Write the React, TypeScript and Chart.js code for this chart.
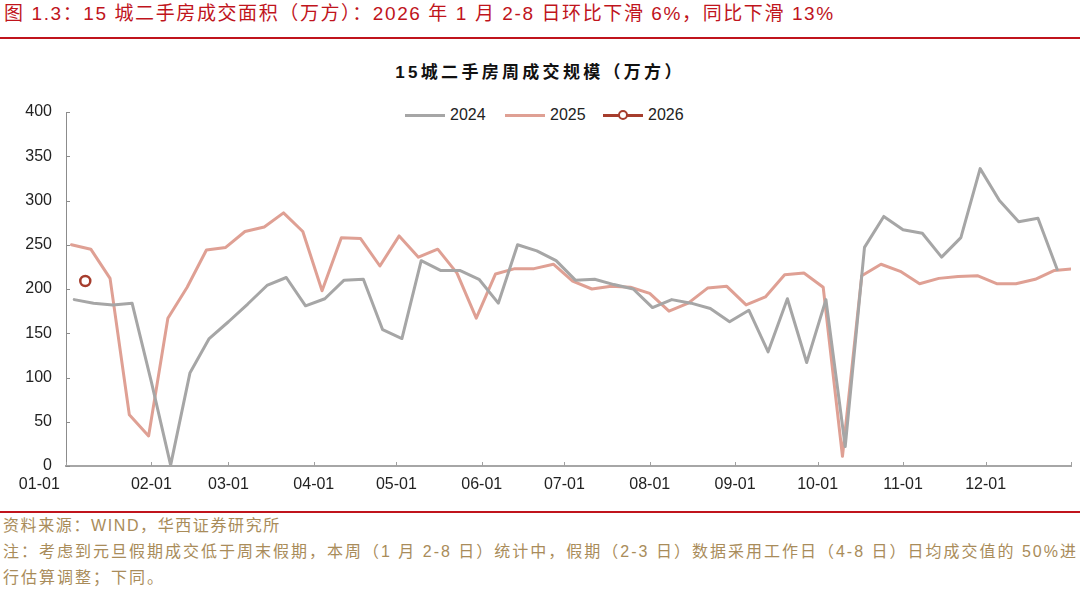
import React, { useEffect, useRef } from "react";
import { Chart, registerables } from "chart.js";

Chart.register(...registerables);

// ---- data ----
const monthTickDays = [0, 31, 59, 90, 120, 151, 181, 212, 243, 273, 304, 334, 365];
const monthTickLabels = ["01-01", "02-01", "03-01", "04-01", "05-01", "06-01", "07-01", "08-01", "09-01", "10-01", "11-01", "12-01", ""];
const yMin = 0;
const yMax = 400;
const yStep = 50;

const seriesNames = ["2024", "2025", "2026"];
// day-of-year of each series' first weekly observation (weeks are 7 days apart)
const firstWeekDay2024 = 3;
const firstWeekDay2025 = 2;
const firstWeekDay2026 = 7;

const values2024 = [188, 184, 182, 184, 95, 1, 105, 144, 163, 183, 204, 213, 181, 189, 210, 211, 154, 144, 232, 221, 221, 211, 184, 250, 243, 232, 210, 211, 205, 200, 179, 188, 184, 178, 163, 176, 129, 189, 117, 188, 22, 247, 282, 267, 263, 236, 258, 336, 300, 276, 280, 222];
const values2025 = [250, 245, 212, 58, 34, 167, 202, 244, 247, 265, 270, 286, 265, 198, 258, 257, 226, 260, 236, 245, 218, 167, 217, 223, 223, 228, 209, 200, 203, 202, 195, 175, 184, 201, 203, 182, 191, 216, 218, 202, 11, 215, 228, 220, 206, 212, 214, 215, 206, 206, 211, 221, 223];
const values2026 = [209];

const seriesColors = ["#A6A6A6", "#DFA094", "#A63D2D"];

const FONT = '"Liberation Sans", "Noto Sans CJK SC", sans-serif';

function weekly(firstDay: number, values: number[]) {
  return values.map((v, i) => ({ x: firstDay + 7 * i, y: v }));
}

const innerTicks = {
  id: "innerTicks",
  beforeDatasetsDraw(chart: any) {
    const { ctx, chartArea, scales } = chart;
    ctx.save();
    ctx.lineWidth = 1;
    ctx.strokeStyle = "#8C8C8C";
    ctx.beginPath();
    scales.y.ticks.forEach((t: any) => {
      const py = Math.round(scales.y.getPixelForValue(t.value)) + 0.5;
      ctx.moveTo(chartArea.left, py);
      ctx.lineTo(chartArea.left + 4, py);
    });
    ctx.stroke();
    ctx.strokeStyle = "#A0A0A0";
    ctx.beginPath();
    scales.x.ticks.forEach((t: any) => {
      const px = Math.round(scales.x.getPixelForValue(t.value)) + 0.5;
      ctx.moveTo(px, chartArea.bottom);
      ctx.lineTo(px, chartArea.bottom - 4);
    });
    ctx.stroke();
    ctx.restore();
  },
};

function LegendItem({ left, color, label, marker }: { left: number; color: string; label: string; marker?: boolean }) {
  return (
    <div style={{ position: "absolute", left, top: 105, height: 20, width: 100 }}>
      <div style={{ position: "absolute", left: 0, top: 8.5, width: 40, height: 3, background: color }} />
      {marker ? (
        <div
          style={{
            position: "absolute",
            left: 14.5,
            top: 4.5,
            width: 6,
            height: 6,
            border: `2.5px solid ${color}`,
            borderRadius: "50%",
            background: "#fff",
          }}
        />
      ) : null}
      <div style={{ position: "absolute", left: 45, top: 0, lineHeight: "20px", fontSize: 16, color: "#222", fontFamily: FONT }}>{label}</div>
    </div>
  );
}

export default function App() {
  const canvasRef = useRef<HTMLCanvasElement | null>(null);

  useEffect(() => {
    const canvas = canvasRef.current;
    if (!canvas) return;
    const chart = new Chart(canvas, {
      type: "line",
      data: {
        datasets: [
          {
            label: seriesNames[0],
            data: weekly(firstWeekDay2024, values2024),
            borderColor: seriesColors[0],
            borderWidth: 3,
            pointRadius: 0,
            tension: 0,
            borderJoinStyle: "round",
            borderCapStyle: "round",
          },
          {
            label: seriesNames[1],
            data: weekly(firstWeekDay2025, values2025),
            borderColor: seriesColors[1],
            borderWidth: 3,
            pointRadius: 0,
            tension: 0,
            borderJoinStyle: "round",
            borderCapStyle: "round",
          },
          {
            label: seriesNames[2],
            data: weekly(firstWeekDay2026, values2026),
            borderColor: seriesColors[2],
            backgroundColor: "#ffffff",
            borderWidth: 2.5,
            pointRadius: 5,
            pointStyle: "circle",
            pointBorderWidth: 2.5,
            pointBackgroundColor: "#ffffff",
            pointBorderColor: seriesColors[2],
            showLine: false,
          },
        ],
      },
      options: {
        animation: false,
        responsive: false,
        maintainAspectRatio: false,
        layout: { padding: { top: 72, right: 1, left: 0, bottom: 0 } },
        plugins: {
          legend: { display: false },
          title: { display: false },
          tooltip: { enabled: false },
        },
        scales: {
          x: {
            type: "linear",
            min: monthTickDays[0],
            max: monthTickDays[monthTickDays.length - 1],
            afterBuildTicks: (scale: any) => {
              scale.ticks = monthTickDays.map((d) => ({ value: d }));
            },
            afterFit: (scale: any) => {
              scale.height = 34;
            },
            grid: { display: false, drawTicks: false },
            border: { display: true, color: "#A6A6A6", width: 2 },
            ticks: {
              autoSkip: false,
              maxRotation: 0,
              minRotation: 0,
              padding: 9,
              color: "#222",
              font: { family: FONT, size: 16 },
              callback: (_v: any, i: number) => (i === 0 ? monthTickLabels[i] + "            " : monthTickLabels[i]),
            },
          },
          y: {
            type: "linear",
            min: yMin,
            max: yMax,
            afterFit: (scale: any) => {
              scale.width = 66;
            },
            grid: { display: false, drawTicks: false },
            border: { display: true, color: "#8C8C8C", width: 1 },
            ticks: {
              stepSize: yStep,
              padding: 14,
              color: "#222",
              font: { family: FONT, size: 16 },
            },
          },
        },
      },
      plugins: [innerTicks],
    } as any);
    return () => chart.destroy();
  }, []);

  return (
    <div style={{ position: "absolute", left: 0, top: 0, width: 1080, height: 596, background: "#fff", overflow: "hidden", fontFamily: FONT }}>
      <div
        style={{
          position: "absolute",
          left: 4,
          top: 4,
          lineHeight: "20px",
          fontSize: 19,
          color: "#C0141C",
          whiteSpace: "nowrap",
          letterSpacing: "1.6px",
        }}
      >
        图 1.3：15 城二手房成交面积（万方）：2026 年 1 月 2-8 日环比下滑 6%，同比下滑 13%
      </div>
      <div style={{ position: "absolute", left: 0, top: 37, width: 1080, height: 2, background: "#C0141C" }} />

      <div
        style={{
          position: "absolute",
          left: 0,
          top: 63,
          width: 1080,
          textAlign: "center",
          lineHeight: "20px",
          fontSize: 17,
          fontWeight: "bold",
          color: "#111",
          letterSpacing: "3.3px",
          whiteSpace: "nowrap",
        }}
      >
        15城二手房周成交规模（万方）
      </div>

      <LegendItem left={405} color={seriesColors[0]} label={seriesNames[0]} />
      <LegendItem left={505} color={seriesColors[1]} label={seriesNames[1]} />
      <LegendItem left={603} color={seriesColors[2]} label={seriesNames[2]} marker />

      <canvas ref={canvasRef} width={1080} height={460} style={{ position: "absolute", left: 0, top: 40, width: 1080, height: 460 }} />

      <div style={{ position: "absolute", left: 0, top: 511, width: 1080, height: 2, background: "#C0141C" }} />
      <div style={{ position: "absolute", left: 3, top: 516, lineHeight: "20px", fontSize: 16, color: "#A98C5A", whiteSpace: "nowrap", letterSpacing: "1.6px" }}>
        资料来源：WIND，华西证券研究所
      </div>
      <div style={{ position: "absolute", left: 3, top: 542, lineHeight: "20px", fontSize: 16, color: "#A98C5A", whiteSpace: "nowrap", letterSpacing: "2.0px" }}>
        注：考虑到元旦假期成交低于周末假期，本周（1 月 2-8 日）统计中，假期（2-3 日）数据采用工作日（4-8 日）日均成交值的 50%进
      </div>
      <div style={{ position: "absolute", left: 3, top: 568, lineHeight: "20px", fontSize: 16, color: "#A98C5A", whiteSpace: "nowrap", letterSpacing: "2.0px" }}>
        行估算调整；下同。
      </div>
    </div>
  );
}
